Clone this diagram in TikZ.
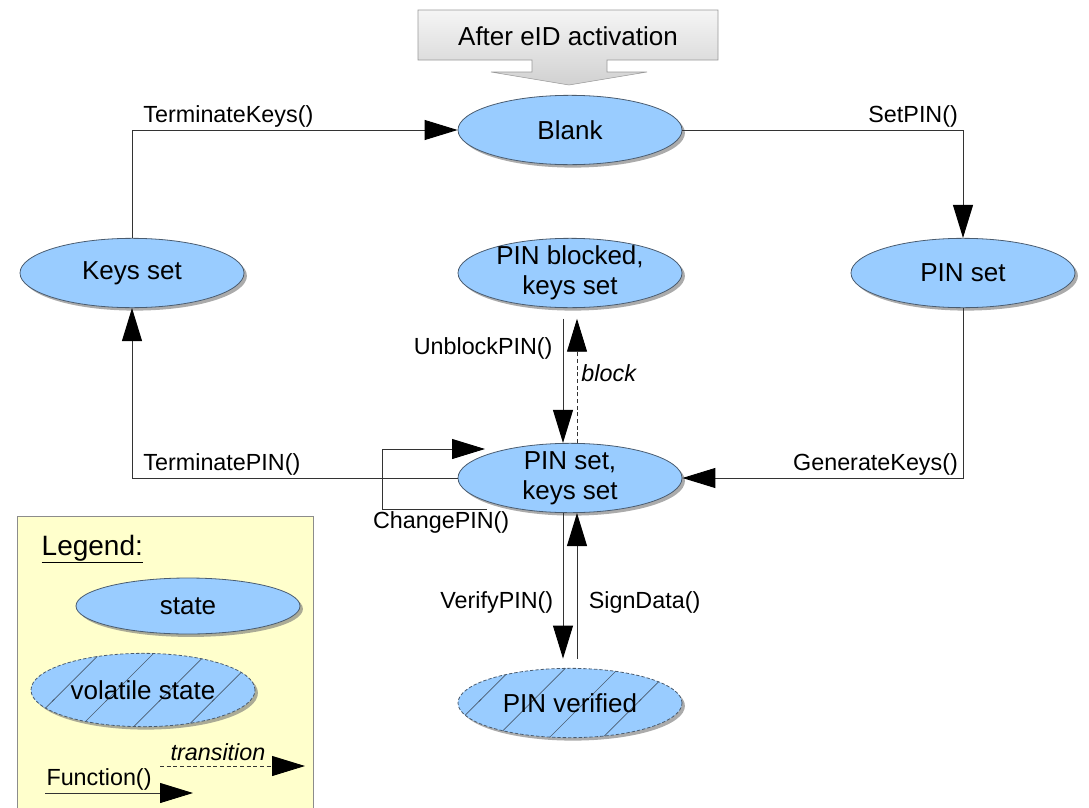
\documentclass[tikz,border=0pt]{standalone}
\usepackage{fontspec}
\setmainfont{Liberation Sans}
\usetikzlibrary{arrows.meta,shapes.geometric,positioning,shadows,patterns.meta,calc}

\definecolor{statefill}{HTML}{99CCFF}
\definecolor{stateline}{HTML}{4A5C70}
\definecolor{legendfill}{HTML}{FFFFCC}

\tikzdeclarepattern{name=sparsehatch, type=uncolored,
  bounding box={(-1pt,-1pt) and (41pt,41pt)}, tile size={(40pt,40pt)},
  code={\draw[solid, line width=0.45pt] (-1pt,-1pt) -- (41pt,41pt);}}

\begin{document}
\begin{tikzpicture}[x=0.75pt, y=-0.75pt, on grid]
  \tikzstyle{state} = [ellipse, draw=stateline, line width=0.6pt, fill=statefill, drop shadow={shadow xshift=2.2pt, shadow yshift=-2.2pt, fill=black!55, opacity=0.6}, minimum width=168pt, minimum height=52pt, inner xsep=0pt, inner ysep=-6pt, align=center, font={\fontsize{19.5}{22.5}\selectfont}]
  \tikzstyle{vstate} = [state, dash pattern=on 2.5pt off 1.5pt, postaction={pattern=sparsehatch, pattern color=stateline}];
  \tikzstyle{fn} = [draw=black!80, line width=0.7pt, -{Triangle[length=24.75pt, width=15pt, black]}];
  \tikzstyle{trans} = [fn, dash pattern=on 3pt off 2pt];
  \tikzstyle{lbl} = [font={\fontsize{17.5}{21}\selectfont}, inner sep=1.5pt];

  \useasboundingbox (0,0) rectangle (1089,807);

  % legend background
  \draw[draw=black!45, fill=legendfill] (17,516) rectangle (313,815);

  % entry callout
  \draw[draw=black!40, top color=black!4, bottom color=black!18]
    (418,10) -- (718,10) -- (718,60) -- (607,60) -- (607,72) -- (647,72) -- (569,85)
    -- (491,72) -- (532,72) -- (532,60) -- (418,60) -- cycle;
  \node[font={\fontsize{19.5}{22.5}\selectfont}] (activ) at (568,36) {After eID activation};

	\node[state] (blank) at (570,130) {Blank};
	\node[state] (blocked) [below=107.25pt of blank] {PIN blocked,\\keys set};
	\node[state] (keys) [left=328.5pt of blocked] {Keys set};
	\node[state] (pinset) [right=294.75pt of blocked] {PIN set};
	\node[state] (both) [below=153.75pt of blocked] {PIN set,\\keys set};
	\node[vstate] (verified) [below=168.75pt of both] {PIN verified};

	\draw[fn] (keys) |- node[lbl, pos=0.5, anchor=south west, xshift=6.75pt] {TerminateKeys()} (blank);
	\draw[fn] (blank) -| node[lbl, pos=0.5, anchor=south east, xshift=-2pt] {SetPIN()} (pinset);
	\draw[fn] (pinset) |- node[lbl, pos=0.5, anchor=south east, xshift=-2pt] {GenerateKeys()} (both);
	\draw[fn] (both) -| node[lbl, pos=0.5, anchor=south west, xshift=6.75pt] {TerminatePIN()} (keys);
	\draw[fn] ($(both)+(-83,31)$) -| node[lbl, pos=0.25, anchor=north, xshift=5pt] {ChangePIN()} ($(both)+(-188,-29)$) -- ($(both)+(-85,-29)$);

	\draw[fn, shorten <=8pt] ([xshift=-5.25pt]blocked.south) -- node[lbl, pos=0.3, left, xshift=-6pt] {UnblockPIN()} ([xshift=-5.25pt]both.north);
	\draw[trans, shorten >=8pt] ([xshift=5.25pt]both.north) -- node[lbl, pos=0.52, right, xshift=1.5pt] {\textit{block}} ([xshift=5.25pt]blocked.south);
	\draw[fn, shorten >=7pt] ([xshift=-5.25pt]both.south) -- node[lbl, pos=0.58, left, xshift=-5.5pt] {VerifyPIN()} ([xshift=-5.25pt]verified.north);
	\draw[fn, shorten <=7pt] ([xshift=5.25pt]verified.north) -- node[lbl, pos=0.42, right, xshift=7pt] {SignData()} ([xshift=5.25pt]both.south);

  % legend
  \node[anchor=base west, font={\fontsize{21}{25}\selectfont}] (legtitle) at (37,555) {\underline{Legend:}};
	\node[state, minimum height=42pt] (lstate) at (188,606) {state};
	\node[vstate, minimum height=55pt] (lvolatile) at (143,690) {volatile state};
  \coordinate (trfrom) at (160,766);
  \coordinate (trto) at (305,766);
  \draw[trans] (trfrom) -- node[lbl, pos=0.4, above, yshift=2pt] {\textit{transition}} (trto);
  \coordinate (fnfrom) at (45,793);
  \coordinate (fnto) at (193,793);
  \draw[fn] (fnfrom) -- node[lbl, pos=0.365, above] {Function()} (fnto);
\end{tikzpicture}
\end{document}
